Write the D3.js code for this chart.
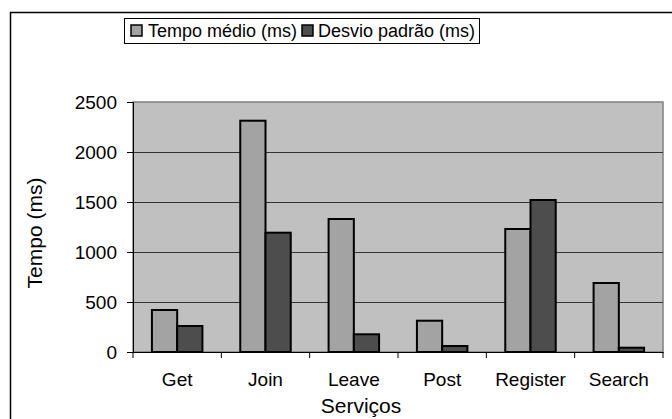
<!DOCTYPE html>
<html><head><meta charset="utf-8">
<script src="https://cdn.jsdelivr.net/npm/d3@7"></script>
<style>
html,body{margin:0;padding:0;background:#fff;}
svg{display:block;font-family:"Liberation Sans",Arial,sans-serif;}
</style></head>
<body><svg id="c" width="672" height="419"></svg>
<script>
const categories = ["Get","Join","Leave","Post","Register","Search"];
const seriesNames = ["Tempo médio (ms)","Desvio padrão (ms)"];
const tempoMedio = [420, 2313, 1330, 313, 1230, 690];
const desvioPadrao = [260, 1193, 177, 60, 1520, 43];
const yTicks = [0, 500, 1000, 1500, 2000, 2500];
const colors = ["#a3a3a3", "#4d4d4d"];

const FONT = "'Liberation Sans', Arial, sans-serif";
const svg = d3.select("#c");
const W = 672, H = 419;
const m = {left:133, right:W-663, top:102, bottom:H-352};

// outer frame (clipped at right/bottom)
svg.append("rect").attr("x",10.5).attr("y",12.5).attr("width",700).attr("height",450)
  .attr("fill","#fff").attr("stroke","#000").attr("stroke-width",1.5);

const x = d3.scaleBand().domain(categories).range([m.left, W-m.right]);
const inner = d3.scaleBand().domain([0,1]).range([0, x.bandwidth()]).paddingInner(0).paddingOuter(0.75);
const y = d3.scaleLinear().domain([0,2500]).range([H-m.bottom, m.top]);

// plot area
svg.append("rect").attr("x",m.left).attr("y",m.top).attr("width",W-m.left-m.right).attr("height",H-m.top-m.bottom)
  .attr("fill","#c0c0c0").attr("stroke","#808080").attr("stroke-width",1.5);

// gridlines
svg.append("g").selectAll("line").data(yTicks.filter(d=>d>0 && d<2500)).join("line")
  .attr("x1",m.left).attr("x2",W-m.right).attr("y1",d=>Math.round(y(d))+0.5).attr("y2",d=>Math.round(y(d))+0.5)
  .attr("stroke","#333").attr("stroke-width",1);

// bars
const data = categories.map((c,i)=>({c, v:[tempoMedio[i], desvioPadrao[i]]}));
const g = svg.append("g");
data.forEach(d=>{
  d.v.forEach((v,j)=>{
    g.append("rect")
      .attr("x", x(d.c)+inner(j))
      .attr("y", y(v))
      .attr("width", inner.bandwidth())
      .attr("height", y(0)-y(v))
      .attr("fill", colors[j]).attr("stroke","#000").attr("stroke-width",2);
  });
});

// axes
const yAxis = d3.axisLeft(y).tickValues(yTicks).tickFormat(d3.format("d")).tickSize(6).tickPadding(10);
const ya = svg.append("g").attr("transform",`translate(${m.left},0)`).call(yAxis);
ya.attr("font-family",FONT).attr("font-size",19);
ya.select(".domain").attr("stroke","#000").attr("stroke-width",1);
ya.selectAll("text").attr("fill","#000").attr("dy","0.35em");

const xAxis = d3.axisBottom(x).tickSizeOuter(0).tickSizeInner(0).tickPadding(21);
const xa = svg.append("g").attr("transform",`translate(0,${H-m.bottom})`).call(xAxis);
xa.attr("font-family",FONT).attr("font-size",19);
xa.select(".domain").attr("stroke","#000");
xa.selectAll(".tick line").remove();
xa.selectAll("text").attr("fill","#000");
// category boundary ticks
svg.append("g").selectAll("line").data(categories.concat(["_end"])).join("line")
  .attr("x1",(d,i)=> i<categories.length ? x(d) : W-m.right)
  .attr("x2",(d,i)=> i<categories.length ? x(d) : W-m.right)
  .attr("y1",H-m.bottom).attr("y2",H-m.bottom+6).attr("stroke","#000");

// axis titles
svg.append("text").attr("transform","translate(42,233) rotate(-90)").attr("text-anchor","middle")
  .attr("font-size",21).text("Tempo (ms)");
svg.append("text").attr("x",361).attr("y",413).attr("text-anchor","middle")
  .attr("font-size",21).text("Serviços");

// legend
const lg = svg.append("g");
lg.append("rect").attr("x",124.5).attr("y",18.5).attr("width",355).attr("height",25)
  .attr("fill","#fff").attr("stroke","#000").attr("stroke-width",1);
const items = [{x:131, tx:148},{x:302, tx:318}];
items.forEach((it,i)=>{
  lg.append("rect").attr("x",it.x).attr("y",25).attr("width",11).attr("height",11)
    .attr("fill",colors[i]).attr("stroke","#000").attr("stroke-width",1.5);
  lg.append("text").attr("x",it.tx).attr("y",37).attr("font-size",18).text(seriesNames[i]);
});
</script></body></html>
